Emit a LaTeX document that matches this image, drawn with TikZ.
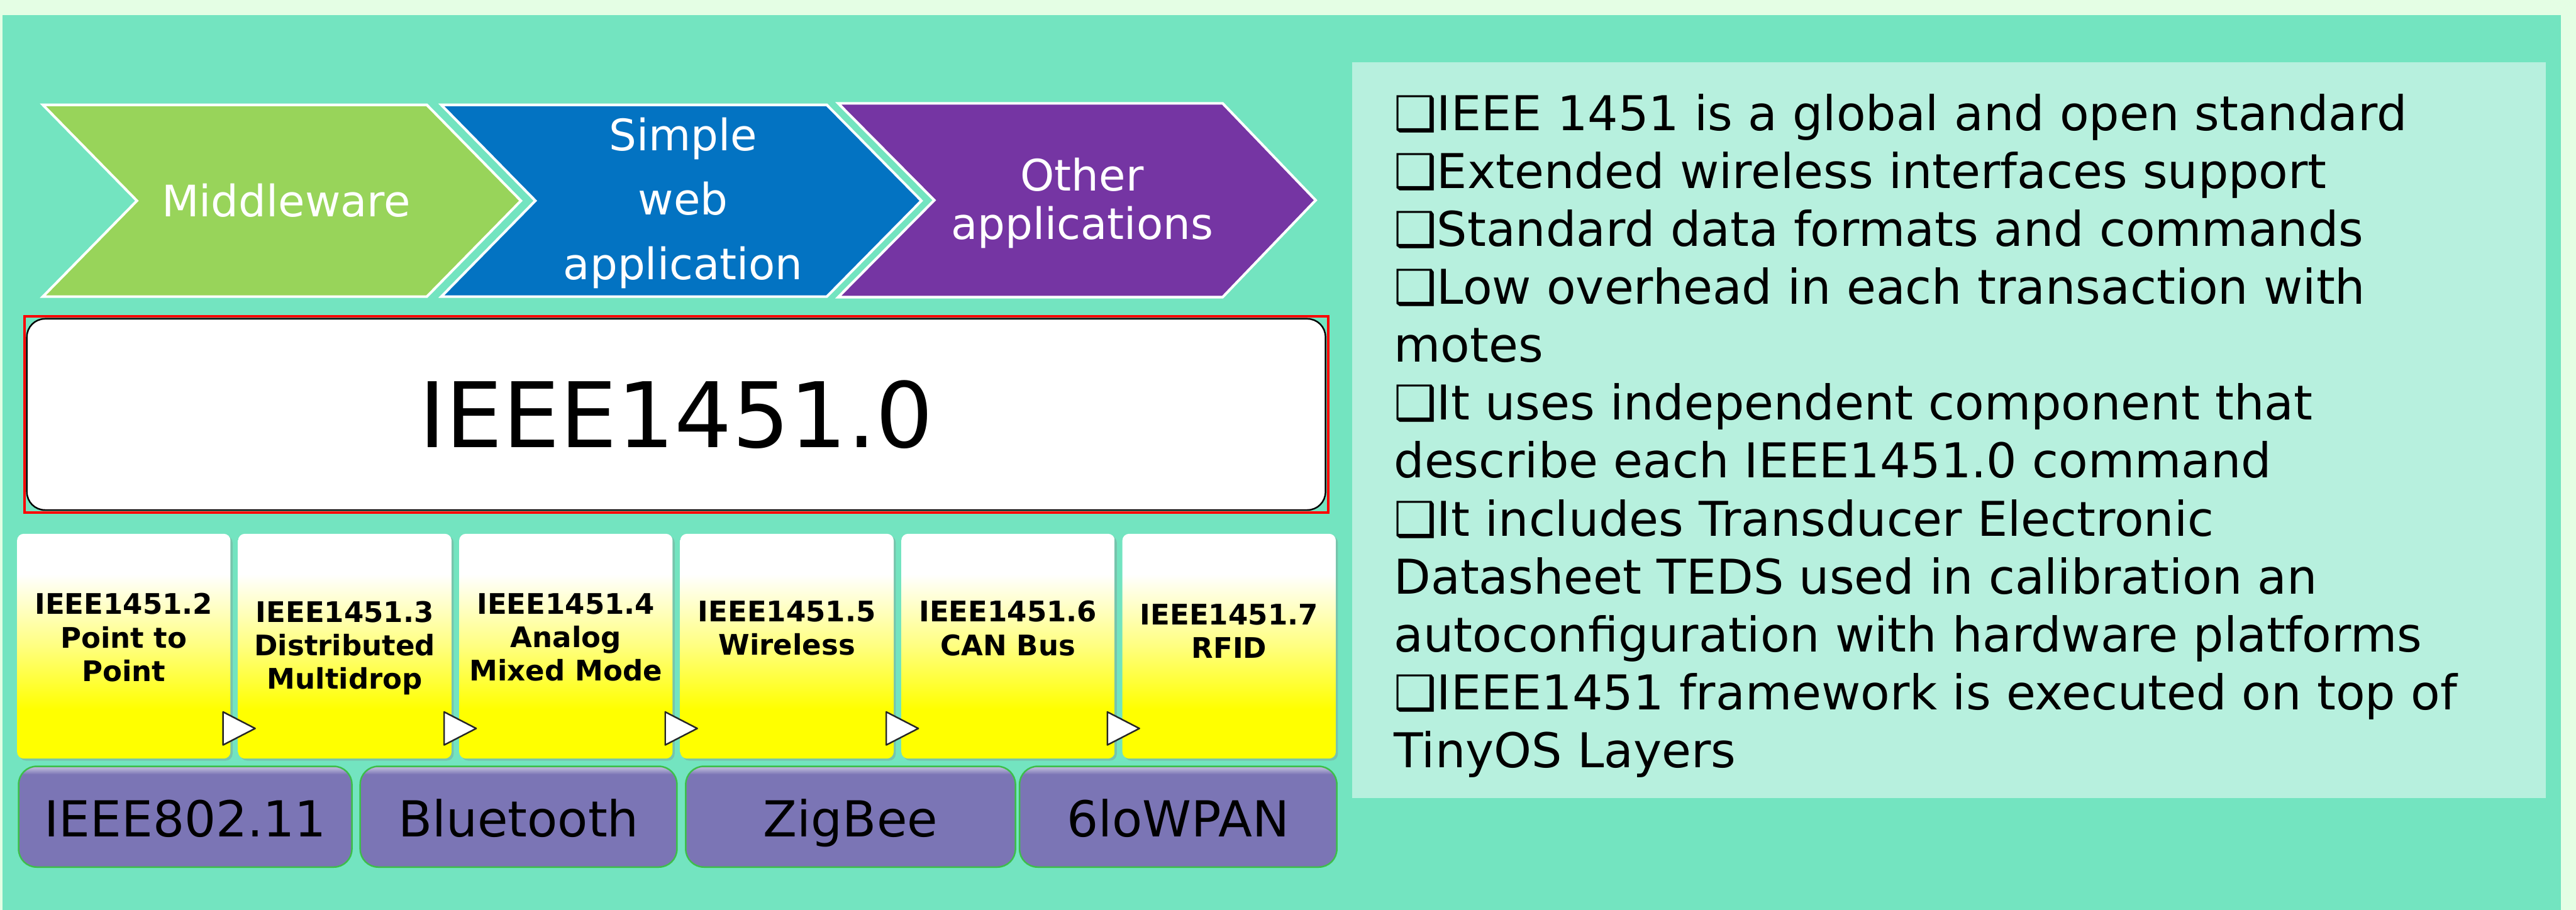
\documentclass[tikz,border=0pt]{standalone}
\usepackage{fontspec}
\setmainfont{DejaVu Sans}
\usepackage{tikz}
\usetikzlibrary{positioning,shadows}

\definecolor{pagemint}{HTML}{E4FEE4}
\definecolor{seagreen}{HTML}{73E4C0}
\definecolor{notemint}{HTML}{B7F0DE}
\definecolor{chevgreen}{HTML}{98D45A}
\definecolor{chevblue}{HTML}{0373C2}
\definecolor{chevpurple}{HTML}{7535A3}
\definecolor{linkpurple}{HTML}{7B75B5}
\definecolor{linkedge}{HTML}{3DBE4A}

\pgfdeclareverticalshading{yellowfade}{100bp}{color(0bp)=(yellow); color(36bp)=(yellow); color(50bp)=(yellow!50); color(66bp)=(white); color(100bp)=(white)}
\pgfdeclareverticalshading{purplegloss}{100bp}{color(0bp)=(linkpurple!80!black); color(27bp)=(linkpurple); color(71bp)=(linkpurple); color(74bp)=(linkpurple!55!white); color(100bp)=(linkpurple!55!white)}

\begin{document}
\begin{tikzpicture}[
    chev/.style={draw=white, line width=0.05cm, line join=miter},
    chevtext/.style={text=white, align=center, inner sep=0pt},
    corebox/.style={draw=black, line width=0.03cm, fill=white, rounded corners=0.35cm,
      minimum width=25.13cm, minimum height=3.70cm, font=\fontsize{49.8}{60}\selectfont},
    ybox/.style={shading=yellowfade, rounded corners=0.13cm, minimum width=4.13cm,
      minimum height=4.35cm, drop shadow={shadow xshift=0.4mm, shadow yshift=-0.4mm, opacity=0.3}},
    ytext/.style={font=\bfseries\fontsize{15.6}{18.5}\selectfont, align=center, inner sep=0pt},
    tri/.style={fill=white, draw=black!85, line width=0.03cm, line join=round},
    linkbox/.style={shading=purplegloss, draw=linkedge, line width=0.03cm, rounded corners=0.35cm,
      minimum height=1.95cm, text height=0.97cm, text depth=0.2cm, inner sep=0pt,
      font=\fontsize{27.3}{32}\selectfont},
    notes/.style={align=left, inner sep=0pt, font=\fontsize{26.4}{31.9}\selectfont}
  ]
    \useasboundingbox (0,0) rectangle (49.85,-17.61);
    % backgrounds
    \fill[pagemint] (0,0) rectangle (49.85,-17.61);
    \fill[seagreen] (0.05,-0.29) rectangle (49.56,-17.61);
    \fill[notemint] (26.16,-1.20) rectangle (49.26,-15.44);

    % application layer
    \draw[chev, fill=chevgreen] (0.83,-2.03) -- (8.26,-2.03) -- (10.08,-3.885) -- (8.26,-5.74) -- (0.83,-5.74) -- (2.65,-3.885) -- cycle;
    \draw[chev, fill=chevblue] (8.54,-2.03) -- (16.00,-2.03) -- (17.83,-3.885) -- (16.00,-5.74) -- (8.54,-5.74) -- (10.36,-3.885) -- cycle;
    \draw[chev, fill=chevpurple] (16.22,-2.00) -- (23.66,-2.00) -- (25.46,-3.875) -- (23.66,-5.75) -- (16.22,-5.75) -- (18.08,-3.875) -- cycle;
    \node[chevtext, font=\fontsize{23.9}{35.6}\selectfont] (middleware) at (5.54,-3.885) {Middleware};
    \node[chevtext, font=\fontsize{23.9}{35.6}\selectfont] (webapp) at (13.22,-3.93) {Simple\\web\\application};
    \node[chevtext, font=\fontsize{23.9}{26.5}\selectfont] (otherapps) at (20.94,-3.93) {Other\\applications};

    % IEEE1451.0 core
    \node[corebox] (core) at (13.085,-8.02) {IEEE1451.0};
    \draw[red, line width=0.05cm] ([shift={(-0.035,0.035)}]core.north west) rectangle ([shift={(0.035,-0.035)}]core.south east);

    % transducer interface standards
    \foreach \i/\id/\txt/\gap in {0/pp/{IEEE1451.2\\Point to\\Point}/1.15,
        1/dm/{IEEE1451.3\\Distributed\\Multidrop}/1.30,
        2/amm/{IEEE1451.4\\Analog\\Mixed Mode}/1.15,
        3/wl/{IEEE1451.5\\Wireless}/1.30,
        4/can/{IEEE1451.6\\CAN Bus}/1.30,
        5/rfid/{IEEE1451.7\\RFID}/1.36} {
      \node[ybox] (\id) at (2.395+4.278*\i,-12.505) {};
      \node[ytext, below=\gap cm of \id.north] (\id-label) {\txt};
    }
    \foreach \id in {pp,dm,amm,wl,can}
      \draw[tri] ([xshift=-1.5mm, yshift=2.7mm]\id.south east) -- ++(0,0.64) -- ++(0.62,-0.32) -- cycle;

    % radio links
    \foreach \x/\w/\id/\txt in {3.585/6.45/wifi/IEEE802.11, 10.035/6.13/bt/Bluetooth,
        16.46/6.38/zb/ZigBee, 22.80/6.14/lowpan/6loWPAN}
      \node[linkbox, minimum width=\w cm] (\id) at (\x,-15.805) {\txt};

    % notes
    \node[notes, anchor=north west] (facts) at (26.97,-1.81) {%
      ❑IEEE 1451 is a global and open standard\\
      ❑Extended wireless interfaces support\\
      ❑Standard data formats and commands\\
      ❑Low overhead in each transaction with\\
      motes\\
      ❑It uses independent component that\\
      describe each IEEE1451.0 command\\
      ❑It includes Transducer Electronic\\
      Datasheet TEDS used in calibration an\\
      autoconfiguration with hardware platforms\\
      ❑IEEE1451 framework is executed on top of\\
      TinyOS Layers};
  \end{tikzpicture}
\end{document}
